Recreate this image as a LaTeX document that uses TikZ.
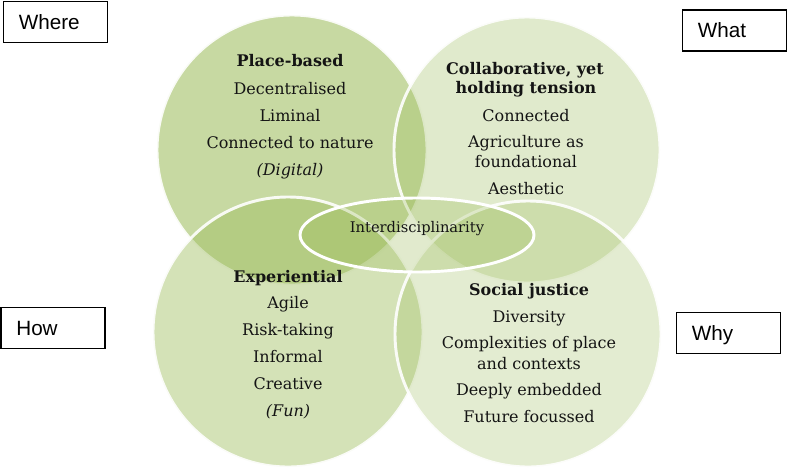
\documentclass[tikz,border=0pt]{standalone}
\usepackage{fontspec}
\setmainfont{DejaVu Serif}
\newfontfamily\labfont{Liberation Sans}
\usetikzlibrary{shapes.geometric}
\definecolor{vgreen}{RGB}{155,187,89}
\definecolor{txt}{RGB}{20,20,20}
\tikzset{
  venn/.style={circle, draw=white, line width=2.2pt, draw opacity=0.9, fill=vgreen, inner sep=0pt, minimum size=#1},
  body/.style={anchor=base, inner sep=0pt, text=txt, font=\fontsize{12}{14}\selectfont},
  head/.style={body, font=\fontsize{12}{14}\selectfont\bfseries},
  ital/.style={body, font=\fontsize{12}{14}\selectfont\itshape},
  lbox/.style={draw=black, line width=0.8pt, rectangle, minimum height=30.75pt, inner xsep=11.5pt,
    text width=#1, align=left, text height=11pt, text depth=0pt, font=\labfont\fontsize{15.5}{18}\selectfont},
}
\begin{document}
\begin{tikzpicture}[x=0.75pt,y=-0.75pt]
\useasboundingbox (0,0) rectangle (787,471);
% circles
\node[venn=202.5pt, fill opacity=0.56] (ctl) at (292,150) {};
\node[venn=199.5pt, fill opacity=0.31] (ctr) at (527,150) {};
\node[venn=202.5pt, fill opacity=0.43] (cbl) at (288,332) {};
\node[venn=199.5pt, fill opacity=0.28] (cbr) at (528,334) {};
\node[ellipse, draw=white, line width=2.2pt, fill=vgreen, fill opacity=0.3, inner sep=0pt,
      minimum width=175.5pt, minimum height=55.5pt] (ell) at (417,235) {};
\node[body, font=\fontsize{11}{13}\selectfont] (inter) at (417,232) {Interdisciplinarity};
% top-left
\node[head] (tl1) at (290,66) {Place-based};
\node[body] (tl2) at (290,94) {Decentralised};
\node[body] (tl3) at (290,121) {Liminal};
\node[body] (tl4) at (290,148) {Connected to nature};
\node[ital] (tl5) at (290,175) {(Digital)};
% top-right
\node[head] (tr1) at (525,74) {Collaborative, yet};
\node[head] (tr2) at (526,93) {holding tension};
\node[body] (tr3) at (526,121) {Connected};
\node[body] (tr4) at (526,147) {Agriculture as};
\node[body] (tr5) at (526,167) {foundational};
\node[body] (tr6) at (526,194) {Aesthetic};
% bottom-left
\node[head] (bl1) at (288,282) {Experiential};
\node[body] (bl2) at (288,308) {Agile};
\node[body] (bl3) at (288,335) {Risk-taking};
\node[body] (bl4) at (288,362) {Informal};
\node[body] (bl5) at (288,389) {Creative};
\node[ital] (bl6) at (288,416) {(Fun)};
% bottom-right
\node[head] (br1) at (529,295) {Social justice};
\node[body] (br2) at (529,322) {Diversity};
\node[body] (br3) at (529,348) {Complexities of place};
\node[body] (br4) at (529,369) {and contexts};
\node[body] (br5) at (529,395) {Deeply embedded};
\node[body] (br6) at (529,422) {Future focussed};
% labels
\node[lbox=55pt] (where) at (55.5,22) {Where};
\node[lbox=55pt] (what) at (734.5,30.5) {What};
\node[lbox=55pt] (how) at (53,328) {How};
\node[lbox=55pt] (why) at (728.5,333) {Why};
\end{tikzpicture}
\end{document}
